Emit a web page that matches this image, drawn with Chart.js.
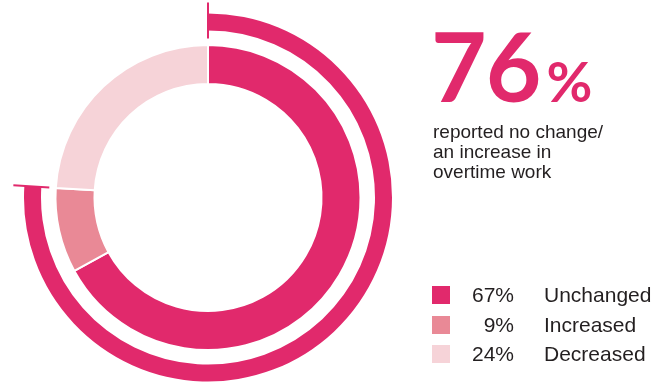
<!DOCTYPE html>
<html>
<head>
<meta charset="utf-8">
<script src="https://cdn.jsdelivr.net/npm/chart.js@4"></script>
<style>
  body { margin: 0; background: #fff; }
  #wrap { position: relative; width: 672px; height: 385px; overflow: hidden; }
  #chart { position: absolute; left: 0; top: 0; }
  #big { position: absolute; left: 431px; top: 17px; font-family: Lato, sans-serif; font-weight: 700;
         font-size: 96px; line-height: 96px; color: #e1296c; white-space: nowrap; letter-spacing: -1px; }
  #big span { font-size: 56px; line-height: 0; margin-left: 6px; letter-spacing: 0; }
  #sub { position: absolute; left: 433px; top: 122px; font-family: "Liberation Sans", Arial, sans-serif;
         font-size: 19px; line-height: 20px; color: #231f20; }
  .row { position: absolute; left: 432px; height: 21px; font-family: "Liberation Sans", Arial, sans-serif;
         font-size: 21px; line-height: 21px; color: #231f20; white-space: nowrap; }
  .row .sw { position: absolute; left: 0; top: 2px; width: 18px; height: 18px; }
  .row .pct { position: absolute; left: 30px; width: 52px; text-align: right; }
  .row .lab { position: absolute; left: 112px; }
</style>
</head>
<body>
<div id="wrap">
  <canvas id="chart" width="672" height="385"></canvas>
  <div id="big"></div>
  <div id="sub">reported no change/<br>an increase in<br>overtime work</div>
  <div id="legend"></div>
</div>
<script>
// Data
const categories = ['Unchanged', 'Increased', 'Decreased'];
const shares = [67, 9, 24];
const colors = ['#e1296c', '#e98996', '#f6d3d8'];
const headline = shares[0] + shares[1]; // no change + increase
const outerRing = [headline, 100 - headline];

// Big number + legend
document.getElementById('big').innerHTML = headline + '<span>%</span>';
const legend = document.getElementById('legend');
legend.innerHTML = categories.map((c, i) => `
  <div class="row" style="top:${284 + i * 29.7}px">
    <div class="sw" style="background:${colors[i]}"></div>
    <div class="pct">${shares[i]}%</div>
    <div class="lab">${c}</div>
  </div>`).join('');

// Tick marks at both ends of the outer arc
const endTicks = {
    id: 'endTicks',
    afterDatasetsDraw(chart) {
        const arc = chart.getDatasetMeta(0).data[0];
        const ctx = chart.ctx;
        ctx.save();
        ctx.strokeStyle = colors[0];
        ctx.lineWidth = 2;
        [arc.startAngle, arc.endAngle].forEach(a => {
            const r1 = arc.innerRadius - 8, r2 = arc.outerRadius + 11;
            ctx.beginPath();
            ctx.moveTo(arc.x + Math.cos(a) * r1, arc.y + Math.sin(a) * r1);
            ctx.lineTo(arc.x + Math.cos(a) * r2, arc.y + Math.sin(a) * r2);
            ctx.stroke();
        });
        ctx.restore();
    }
};

new Chart(document.getElementById('chart'), {
    type: 'doughnut',
    data: {
        labels: categories,
        datasets: [
            { data: outerRing, backgroundColor: [colors[0], 'rgba(0,0,0,0)'], borderWidth: 0, weight: 17 },
            { data: [100], backgroundColor: 'rgba(0,0,0,0)', borderWidth: 0, weight: 14.5 },
            { data: shares, backgroundColor: colors, borderColor: '#fff', borderWidth: 2, weight: 39 }
        ]
    },
    options: {
        responsive: false,
        animation: false,
        cutout: '61.7%',
        layout: { padding: { left: 0, right: 256, top: 13.5, bottom: 3.5 } },
        plugins: { legend: { display: false }, tooltip: { enabled: false } }
    },
    plugins: [endTicks]
});
</script>
</body>
</html>
